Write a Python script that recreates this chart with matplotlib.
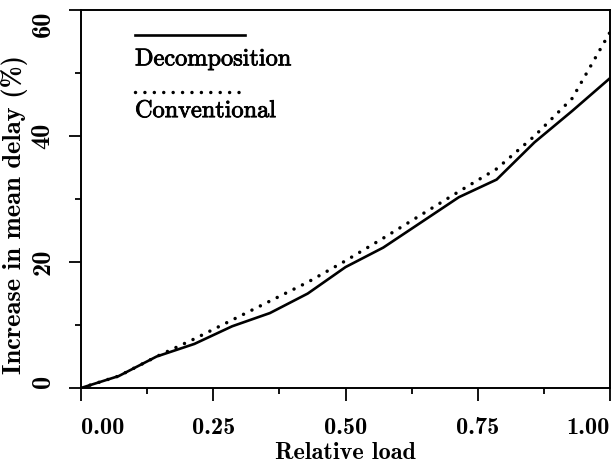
import numpy as np
import matplotlib
matplotlib.use('Agg')
import matplotlib.pyplot as plt
import matplotlib.patheffects as pe

# relative load sampled at 1/14 steps
load = [0.0, 0.0714, 0.1429, 0.2143, 0.2857, 0.3571, 0.4286, 0.5,
        0.5714, 0.6429, 0.7143, 0.7857, 0.8571, 0.9286, 1.0]
decomposition = [0.0, 1.9, 5.0, 7.0, 9.8, 11.9, 15.0, 19.2,
                 22.3, 26.3, 30.3, 33.1, 39.0, 44.0, 49.2]
conventional = [0.0, 1.9, 5.0, 7.8, 10.8, 13.8, 16.8, 20.2,
                23.8, 27.5, 31.2, 34.8, 40.0, 46.0, 56.5]
xticks = [0.0, 0.25, 0.5, 0.75, 1.0]
xticklabels = ['0.00', '0.25', '0.50', '0.75', '1.00']
yticks = [0, 20, 40, 60]
yticklabels = ['0', '20', '40', '60']

fs = 17.5
fsy = 19
thick = [pe.withStroke(linewidth=0.6, foreground='black')]
dots = (0, (0.01, 2.7))

fig = plt.figure(figsize=(6.12, 4.63), dpi=100)
ax = fig.add_axes([0.1324, 0.162, 0.8643, 0.816])

ax.plot(load, decomposition, color='black', lw=1.9, solid_capstyle='round')
ax.plot(load, conventional, color='black', lw=2.5, linestyle=dots,
        dash_capstyle='round')

ax.set_xlim(0, 1)
ax.set_ylim(0, 60)
ax.set_xticks(xticks)
ax.set_xticks([0.125, 0.375, 0.625, 0.875], minor=True)
ax.set_xticklabels(xticklabels, fontfamily='cmb10', fontsize=fs)
ax.set_yticks(yticks)
ax.set_yticks([10, 30, 50], minor=True)
ax.set_yticklabels(yticklabels, fontfamily='cmb10', fontsize=fsy,
                   rotation=90, va='center')
ax.tick_params(which='major', length=9, width=1.3, direction='out')
ax.tick_params(which='minor', length=4.5, width=1.3, direction='out')
ax.tick_params(axis='x', which='major', pad=12)
ax.tick_params(axis='y', which='major', pad=10)

# keep end labels inside the frame like the original
xl = ax.get_xticklabels()
xl[0].set_ha('left')
xl[-1].set_ha('right')
yl = ax.get_yticklabels()
yl[0].set_va('bottom')
yl[-1].set_va('top')

for s in ax.spines.values():
    s.set_linewidth(1.4)

ax.set_xlabel('Relative load', fontfamily='cmb10', fontsize=fs, labelpad=2)
ax.set_ylabel('Increase in mean delay (%)', fontfamily='cmb10', fontsize=fsy)
ax.yaxis.set_label_coords(-0.1, 0.46)

# legend drawn as line above label
tr = ax.transAxes
ax.plot([0.102, 0.31], [0.934, 0.934], transform=tr, color='black', lw=1.9)
ax.text(0.102, 0.854, 'Decomposition', transform=tr, fontfamily='cmr10', fontsize=fs,
        va='baseline', ha='left', path_effects=thick)
ax.plot([0.102, 0.31], [0.783, 0.783], transform=tr, color='black', lw=2.5,
        linestyle=dots, dash_capstyle='round')
ax.text(0.102, 0.717, 'Conventional', transform=tr, fontfamily='cmr10', fontsize=fs,
        va='baseline', ha='left', path_effects=thick)

fig.savefig('out.png', dpi=100)
